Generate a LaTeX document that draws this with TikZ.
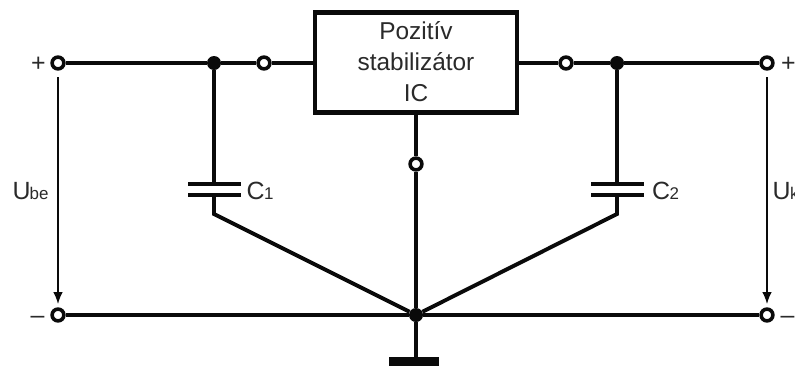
\documentclass[tikz,border=0pt]{standalone}
\usepackage{fontspec}
\setmainfont{Liberation Sans}
\usetikzlibrary{arrows.meta}
\definecolor{ink}{HTML}{0A0A0A}
\definecolor{txt}{HTML}{2A2A2A}
\tikzset{
  wire/.style={line width=3.9bp,draw=ink},
  plate/.style={line width=4bp,draw=ink},
  term/.style={circle,draw=ink,fill=white,line width=3.6bp,minimum size=11.8bp,inner sep=0pt},
  junc/.style={circle,fill=ink,minimum size=14bp,inner sep=0pt},
  volt/.style={line width=1.3bp,draw=ink,-{Latex[length=12bp,width=9.5bp]}},
  lab/.style={text=txt,inner sep=0pt,anchor=base west,font=\fontsize{25}{25}\selectfont},
  sub/.style={text=txt,inner sep=0pt,anchor=base west,font=\fontsize{17}{17}\selectfont},
  icbox/.style={draw=ink,line width=4.2bp,fill=white,minimum width=202bp,minimum height=100bp,inner sep=0pt},
  gnd/.style={fill=ink,minimum width=50bp,minimum height=18bp,inner sep=0pt}
}
\begin{document}
\begin{tikzpicture}[x=1bp,y=-1bp]
\useasboundingbox (0,0) rectangle (795,365);
% labels
\node[lab] (plusL) at (31,71) {+};
\node[lab] (minusL) at (30.5,323) {–};
\node[lab] (plusR) at (781,71) {+};
\node[lab] (minusR) at (780.5,323) {–};
\node[lab] (Ube) at (12.5,199.5) {U};
\node[sub] (Ubesub) at (29.5,199.5) {be};
\node[lab] (Uk) at (772.5,199.5) {U};
\node[sub] (Uksub) at (790,199.5) {k};
\node[lab] (C1) at (246.5,199.5) {C};
\node[sub] (C1sub) at (264,199.5) {1};
\node[lab] (C2) at (652,199.5) {C};
\node[sub] (C2sub) at (669.5,199.5) {2};
% points
\coordinate (c1top) at (214,184);
\coordinate (c1bot) at (214,195);
\coordinate (c1bend) at (214,214);
\coordinate (c1a) at (188,184);
\coordinate (c1b) at (240.5,184);
\coordinate (c1c) at (188,195);
\coordinate (c1d) at (240.5,195);
\coordinate (c2top) at (617,184);
\coordinate (c2bot) at (617,195);
\coordinate (c2bend) at (617,214);
\coordinate (c2a) at (591,184);
\coordinate (c2b) at (643.5,184);
\coordinate (c2c) at (591,195);
\coordinate (c2d) at (643.5,195);
\coordinate (v1a) at (58,77);
\coordinate (v1b) at (58,304);
\coordinate (v2a) at (767,77);
\coordinate (v2b) at (767,304);
% nodes
\node[icbox] (ic) at (416,62.5) {};
\node[text=txt,inner sep=0pt,align=center,font=\fontsize{24.5}{31}\selectfont] (ictext) at (416,62) {Pozitív\\stabilizátor\\IC};
\node[term] (tl) at (58,63) {};
\node[term] (bl) at (58,315) {};
\node[term] (tr) at (767,63) {};
\node[term] (br) at (767,315) {};
\node[term] (sl) at (264,63) {};
\node[term] (sr) at (566,63) {};
\node[term] (sm) at (416,164) {};
\node[junc] (jl) at (214,63) {};
\node[junc] (jr) at (617,63) {};
\node[junc] (jm) at (416,315) {};
\node[gnd] (g) at (414,366) {};
% wires
\draw[wire] (tl) -- (jl) -- (sl) -- (ic.west |- sl);
\draw[wire] (ic.east |- sr) -- (sr) -- (jr) -- (tr);
\draw[wire] (bl) -- (jm) -- (br);
\draw[wire] (ic.south) -- (sm);
\draw[wire] (sm) -- (jm);
\draw[wire] (jm) -- (jm |- g.north);
\draw[wire] (jl) -- (c1top);
\draw[wire,line join=miter] (c1bot) -- (c1bend) -- (jm);
\draw[wire] (jr) -- (c2top);
\draw[wire,line join=miter] (c2bot) -- (c2bend) -- (jm);
\draw[plate] (c1a) -- (c1b);
\draw[plate] (c1c) -- (c1d);
\draw[plate] (c2a) -- (c2b);
\draw[plate] (c2c) -- (c2d);
\draw[volt] (v1a) -- (v1b);
\draw[volt] (v2a) -- (v2b);
\end{tikzpicture}
\end{document}
